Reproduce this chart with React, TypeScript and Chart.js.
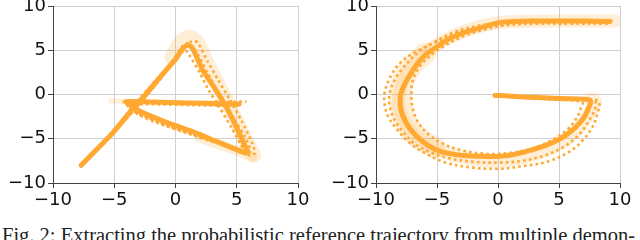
import React, { useEffect, useRef } from 'react';
import { Chart, registerables } from 'chart.js';

Chart.register(...registerables);

type P = [number, number];

const AXIS_MIN = -10;
const AXIS_MAX = 10;
const TICK_STEP = 5;
const tickLabels = ['\u221210', '\u22125', '0', '5', '10'];
const caption = 'Fig. 2: Extracting the probabilistic reference trajectory from multiple demon-';

// ---- Letter "A" (left panel) ----
const aMean: P[] = [
  [-7.7, -8.0], [-6.5, -6.3], [-5.1, -4.3], [-3.6, -1.8], [-2.5, -0.1], [-1.3, 1.9],
  [0.0, 4.0], [0.6, 5.2], [1.0, 5.6], [1.4, 5.2], [2.2, 2.8], [3.3, 0.5], [4.1, -1.3],
  [4.95, -3.6], [5.6, -5.6], [5.9, -6.5], [5.5, -6.5], [3.5, -5.4], [1.4, -4.2],
  [-1.0, -3.0], [-2.9, -1.9], [-3.6, -1.3], [-4.0, -0.8], [-2.0, -0.85], [1.0, -0.95],
  [3.5, -1.05], [5.2, -1.1],
];
const aDemo1: P[] = [
  [-7.6, -7.9], [-5.2, -4.6], [-3.4, -1.8], [-1.5, 1.3], [0.3, 4.5], [1.3, 6.0], [1.8, 5.9],
  [2.6, 3.8], [3.5, 1.6], [4.4, -0.5], [5.4, -3.0], [6.2, -5.3], [6.5, -6.6], [6.1, -6.9],
  [4.7, -6.1], [2.0, -4.8], [-0.5, -3.6], [-3.0, -2.2], [-3.8, -1.5], [-4.0, -0.9],
  [-1.0, -0.9], [2.5, -0.85], [5.8, -0.8],
];
const aDemo2: P[] = [
  [-7.4, -7.6], [-5.0, -4.2], [-3.2, -1.5], [-1.2, 1.8], [0.2, 4.3], [0.8, 5.0], [1.2, 4.3],
  [2.0, 2.4], [2.7, 0.5], [3.6, -1.5], [4.6, -3.8], [5.3, -5.6], [5.5, -6.2], [5.0, -6.2],
  [3.0, -5.2], [0.5, -4.0], [-1.8, -2.9], [-3.2, -2.0], [-3.8, -1.2], [-2.0, -1.1],
  [1.5, -1.2], [4.8, -1.3],
];
const aDemo3: P[] = [
  [-7.8, -8.1], [-5.4, -4.8], [-3.8, -1.9], [-2.2, 0.7], [-0.5, 3.3], [0.6, 5.5], [1.1, 5.8],
  [1.7, 4.8], [2.6, 2.5], [3.6, 0.0], [4.6, -2.4], [5.6, -4.6], [6.1, -6.2], [5.9, -6.8],
  [4.0, -5.8], [1.2, -4.5], [-1.5, -3.2], [-3.0, -2.3], [-3.9, -1.3], [-4.2, -0.8],
  [0.0, -0.9], [3.5, -1.0], [5.6, -0.9],
];
const aBandApex: P[] = [
  [-0.3, 4.2], [0.4, 5.9], [1.1, 6.5], [1.8, 5.9], [2.5, 3.8], [3.4, 1.3], [4.4, -1.4],
  [5.3, -3.9], [6.0, -5.9], [6.4, -6.9],
];
const aBandDiag: P[] = [[6.3, -7.0], [4.5, -6.1], [2.0, -4.9]];
const aBandCross: P[] = [[-5.3, -0.72], [-3.5, -0.8], [-1.0, -0.9]];

// ---- Letter "G" (right panel) ----
const gMean: P[] = [
  [9.2, 8.25], [7.0, 8.3], [5.0, 8.3], [2.6, 8.3], [0.2, 8.15], [-1.5, 7.5], [-2.8, 7.0],
  [-4.0, 6.3], [-5.0, 5.4], [-6.1, 4.3], [-6.9, 2.9], [-7.6, 1.3], [-8.0, -0.2], [-7.9, -2.0],
  [-7.2, -3.9], [-6.1, -5.4], [-4.8, -6.4], [-2.8, -6.9], [-1.0, -7.0], [0.0, -7.0],
  [1.2, -6.8], [2.4, -6.4], [3.8, -5.8], [5.1, -5.0], [6.2, -3.9], [7.0, -2.7], [7.4, -1.6],
  [7.6, -0.8], [7.3, -0.55], [5.0, -0.45], [2.5, -0.3], [0.5, -0.15], [-0.25, -0.1],
];
const gDemo1: P[] = [
  [9.0, 8.1], [6.0, 8.1], [3.0, 8.1], [0.5, 7.9], [-1.5, 7.6], [-3.5, 6.9], [-5.3, 5.8],
  [-6.9, 4.7], [-8.0, 3.6], [-8.7, 2.3], [-9.25, 0.5], [-9.3, -1.0], [-9.0, -2.5], [-8.3, -3.9],
  [-7.3, -5.4], [-6.0, -6.6], [-4.5, -7.6], [-2.5, -8.2], [0.0, -8.4], [2.0, -8.1],
  [4.0, -7.6], [5.8, -6.5], [7.0, -5.1], [7.8, -3.5], [8.2, -1.9], [8.3, -0.9], [7.9, -0.6],
  [5.0, -0.6], [2.5, -0.4], [0.0, -0.2],
];
const gDemo2: P[] = [
  [9.0, 8.3], [6.0, 8.3], [3.0, 8.2], [0.5, 8.1], [-1.5, 7.8], [-3.5, 7.1], [-5.1, 6.0],
  [-6.5, 4.8], [-7.6, 3.3], [-8.4, 1.8], [-8.85, 0.3], [-8.9, -1.2], [-8.5, -2.8], [-7.8, -4.2],
  [-6.9, -5.5], [-5.6, -6.5], [-4.0, -7.2], [-2.0, -7.6], [0.0, -7.7], [2.0, -7.5],
  [3.8, -6.9], [5.4, -5.9], [6.6, -4.6], [7.4, -3.1], [7.9, -1.8], [8.0, -0.9], [7.6, -0.6],
  [5.0, -0.5], [2.5, -0.35], [0.0, -0.15],
];
const gDemo3: P[] = [
  [9.0, 8.0], [6.0, 8.0], [3.0, 8.0], [0.5, 7.8], [-1.5, 7.2], [-3.0, 6.5], [-4.5, 5.4],
  [-5.7, 4.2], [-6.5, 3.0], [-7.0, 1.5], [-7.1, 0.0], [-7.0, -1.5], [-6.6, -3.0], [-5.8, -4.4],
  [-4.6, -5.5], [-3.0, -6.3], [-1.0, -6.7], [1.0, -6.6], [2.8, -6.1], [4.5, -5.1],
  [5.8, -3.8], [6.5, -2.5], [6.8, -1.5], [6.9, -0.9], [5.0, -0.5], [2.5, -0.35], [0.0, -0.15],
];
const gBandWide: P[] = [
  [-6.0, 4.6], [-7.2, 3.0], [-7.9, 1.0], [-8.0, -1.0], [-7.6, -3.0], [-6.6, -4.8], [-5.2, -6.0],
];
const gBand: P[] = [
  [9.6, 8.3], [6.0, 8.3], [2.0, 8.25], [0.0, 8.1], [-2.0, 7.5], [-4.0, 6.4], [-5.8, 4.9],
  [-7.2, 2.9], [-8.0, 0.6], [-8.1, -1.4], [-7.6, -3.2], [-6.5, -4.9], [-5.0, -6.2],
  [-3.0, -7.1], [-1.0, -7.5], [1.0, -7.4], [3.0, -6.8], [4.8, -5.8], [6.2, -4.4],
  [7.2, -2.7], [7.8, -1.4], [8.0, -0.8], [7.6, -0.5],
];

const ORANGE = 'rgb(255,168,50)';
const BAND = 'rgba(255,168,50,0.2)';

const toXY = (p: P[]) => p.map(([x, y]) => ({ x, y }));

type BandSpec = { pts: P[]; w: number };

function Panel(props: {
  left: number;
  axisWidth: number;
  padRight: number;
  mean: P[];
  demos: P[][];
  bands: BandSpec[];
  tension: number;
}) {
  const ref = useRef<HTMLCanvasElement>(null);
  useEffect(() => {
    const { mean, demos, bands, tension, axisWidth, padRight } = props;
    const datasets: any[] = [];
    bands.forEach((b) =>
      datasets.push({
        data: toXY(b.pts),
        showLine: true,
        borderColor: BAND,
        borderWidth: b.w,
        pointRadius: 0,
        tension,
        borderCapStyle: 'round',
        borderJoinStyle: 'round',
        order: 3,
      })
    );
    demos.forEach((d) =>
      datasets.push({
        data: toXY(d),
        showLine: true,
        borderColor: ORANGE,
        borderWidth: 2.6,
        borderDash: [2.6, 3.2],
        pointRadius: 0,
        tension,
        order: 2,
      })
    );
    datasets.push({
      data: toXY(mean),
      showLine: true,
      borderColor: ORANGE,
      borderWidth: 5,
      pointRadius: 0,
      tension,
      borderCapStyle: 'round',
      borderJoinStyle: 'round',
      order: 1,
    });
    const tickFont = { family: 'DejaVu Sans', size: 18 };
    const axisCommon = (isY: boolean) => ({
      type: 'linear',
      min: AXIS_MIN,
      max: AXIS_MAX,
      ticks: {
        stepSize: TICK_STEP,
        font: tickFont,
        color: '#111',
        padding: 2,
        callback: (_v: any, i: number) => tickLabels[i],
      },
      grid: { color: '#cfcfcf', lineWidth: 1, tickLength: 5, tickColor: '#444' },
      border: { color: '#444', width: 1 },
      afterFit: (s: any) => {
        if (isY) s.width = axisWidth;
        else s.height = 29;
      },
    });
    const chart = new Chart(ref.current as HTMLCanvasElement, {
      type: 'scatter',
      data: { datasets },
      options: {
        animation: false,
        responsive: false,
        devicePixelRatio: 1,
        layout: { padding: { top: 26, right: padRight, left: 0, bottom: 0 } },
        plugins: { legend: { display: false }, tooltip: { enabled: false } },
        scales: { x: axisCommon(false) as any, y: axisCommon(true) as any },
      },
    });
    return () => chart.destroy();
  }, []);
  return (
    <canvas
      ref={ref}
      width={320}
      height={232}
      style={{ position: 'absolute', left: props.left, top: -20, width: 320, height: 232 }}
    />
  );
}

export default function App() {
  useEffect(() => {
    document.body.style.margin = '0';
  }, []);
  return (
    <div style={{ position: 'relative', width: 640, height: 240, overflow: 'hidden', background: '#fff' }}>
      <Panel
        left={0}
        axisWidth={53}
        padRight={22}
        mean={aMean}
        demos={[aDemo1, aDemo2, aDemo3]}
        bands={[
          { pts: aBandApex, w: 15 },
          { pts: aBandDiag, w: 10 },
          { pts: aBandCross, w: 5 },
        ]}
        tension={0.2}
      />
      <Panel
        left={320}
        axisWidth={56}
        padRight={20}
        mean={gMean}
        demos={[gDemo1, gDemo2, gDemo3]}
        bands={[
          { pts: gBandWide, w: 22 },
          { pts: gBand, w: 13 },
        ]}
        tension={0.35}
      />
      <div
        style={{
          position: 'absolute',
          left: 2,
          top: 224.5,
          fontFamily: '"Liberation Serif", serif',
          fontSize: 20.5,
          lineHeight: '20.5px',
          whiteSpace: 'nowrap',
          color: '#222',
        }}
      >
        {caption}
      </div>
    </div>
  );
}
